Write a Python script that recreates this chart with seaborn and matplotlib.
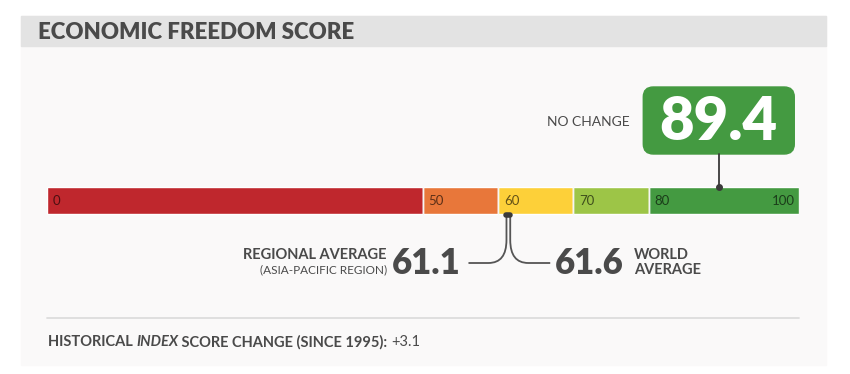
import numpy as np
import matplotlib
matplotlib.use('Agg')
import matplotlib.pyplot as plt
from matplotlib.patches import Rectangle, FancyBboxPatch
from matplotlib.path import Path
from matplotlib.patches import PathPatch
import seaborn as sns

sns.set_theme(style='white')
plt.rcParams['font.family'] = ['Lato', 'DejaVu Sans']

# 점수 구간 (0~100)
seg_start = [0, 50, 60, 70, 80]
seg_end = [50, 60, 70, 80, 100]
seg_colors = ['#bf272d', '#e8773a', '#fdd039', '#9dc547', '#449a41']
seg_labels = ['0', '50', '60', '70', '80']

score = 89.4
score_note = 'NO CHANGE'
regional_avg = 61.1
world_avg = 61.6
hist_change = '+3.1'

TXT = '#4a4a4a'
W, H = 850, 374

fig = plt.figure(figsize=(W / 100, H / 100), dpi=100)
fig.patch.set_facecolor('white')

# 배경용 축 (픽셀 좌표)
bg = fig.add_axes([0, 0, 1, 1])
bg.set_xlim(0, W)
bg.set_ylim(H, 0)
bg.axis('off')

# 데이터 축 (x: 점수, y: 픽셀)
ax = fig.add_axes([47 / W, 0, 752 / W, 1])
ax.set_xlim(0, 100)
ax.set_ylim(H, 0)
ax.axis('off')
ax.patch.set_alpha(0)

def to_px(s):
    return bg.transData.inverted().transform(ax.transData.transform((s, 0)))[0]

bg.add_patch(Rectangle((21, 16), 805, 349, color='#faf9f9', zorder=0))
bg.add_patch(Rectangle((21, 16), 805, 30, color='#e3e3e3', zorder=1))
bg.text(38, 32, 'ECONOMIC FREEDOM SCORE', fontsize=16, fontweight='heavy',
        color=TXT, va='center', ha='left')

# 막대
widths = np.array(seg_end) - np.array(seg_start)
ax.barh(200.5, widths, left=seg_start, height=27, color=seg_colors, zorder=2)
ax.vlines(seg_start[1:], 187, 214, color='#f6f5f5', lw=1, zorder=3)
for s, lab in zip(seg_start, seg_labels):
    ax.annotate(lab, (s, 201), xytext=(4, 0), textcoords='offset points',
                fontsize=9.5, color='black', alpha=0.6, va='center', ha='left', zorder=4)
ax.annotate(str(seg_end[-1]), (seg_end[-1], 201), xytext=(-3, 0), textcoords='offset points',
            fontsize=9.5, color='black', alpha=0.6, va='center', ha='right', zorder=4)

# 점수 박스
sx = to_px(score)
ax.plot([score, score], [154, 187], color='#3a3a3a', lw=1.3, zorder=4)
ax.plot([score], [187], 'o', color='#3a3a3a', ms=4, zorder=5)
bg.add_patch(FancyBboxPatch((sx - 76 + 10, 87 + 10), 151 - 20, 67 - 20,
                            boxstyle='round,pad=10', color=seg_colors[-1], zorder=3))
bg.text(sx - 1, 122, f'{score}', fontsize=43, fontweight='heavy', color='white',
        ha='center', va='center', zorder=4)
bg.text(630, 122, score_note, fontsize=10, color=TXT, ha='right', va='center')

# 지역/세계 평균
rx, wx = to_px(regional_avg), to_px(world_avg)
ax.plot([regional_avg, world_avg], [215, 215], color='#3a3a3a', lw=4,
        solid_capstyle='round', zorder=5)
lc = Path([(rx, 215), (rx, 240), (rx, 263), (rx - 18, 263), (rx - 38, 263)],
          [Path.MOVETO, Path.LINETO, Path.CURVE3, Path.CURVE3, Path.LINETO])
rc = Path([(wx, 215), (wx, 240), (wx, 263), (wx + 18, 263), (wx + 40, 263)],
          [Path.MOVETO, Path.LINETO, Path.CURVE3, Path.CURVE3, Path.LINETO])
for p in (lc, rc):
    bg.add_patch(PathPatch(p, fill=False, color='#555555', lw=1.3, zorder=4))

bg.text(rx - 46, 263, f'{regional_avg}', fontsize=25, fontweight='heavy', color=TXT,
        ha='right', va='center')
bg.text(wx + 45, 263, f'{world_avg}', fontsize=25, fontweight='heavy', color=TXT,
        ha='left', va='center')
bg.text(387, 255, 'REGIONAL AVERAGE', fontsize=10.5, fontweight='bold', color=TXT,
        ha='right', va='center')
bg.text(387, 270, '(ASIA-PACIFIC REGION)', fontsize=8.5, color=TXT, ha='right', va='center')
bg.text(634, 255, 'WORLD', fontsize=10.5, fontweight='bold', color=TXT, ha='left', va='center')
bg.text(634, 270, 'AVERAGE', fontsize=10.5, fontweight='bold', color=TXT, ha='left', va='center')

# 하단
bg.plot([47, 799], [318, 318], color='#dddddd', lw=1.3)
r = fig.canvas.get_renderer()
x = 48
for txt, st, wt in [('HISTORICAL ', 'normal', 'bold'), ('INDEX', 'italic', 'bold'),
                    (' SCORE CHANGE (SINCE 1995): ', 'normal', 'bold'),
                    (hist_change, 'normal', 'normal')]:
    t = bg.text(x, 342, txt, fontsize=10.5, fontstyle=st, fontweight=wt, color=TXT,
                ha='left', va='center')
    bb = t.get_window_extent(renderer=r)
    x = bg.transData.inverted().transform((bb.x1, 0))[0]

fig.savefig('out.png', dpi=100)
